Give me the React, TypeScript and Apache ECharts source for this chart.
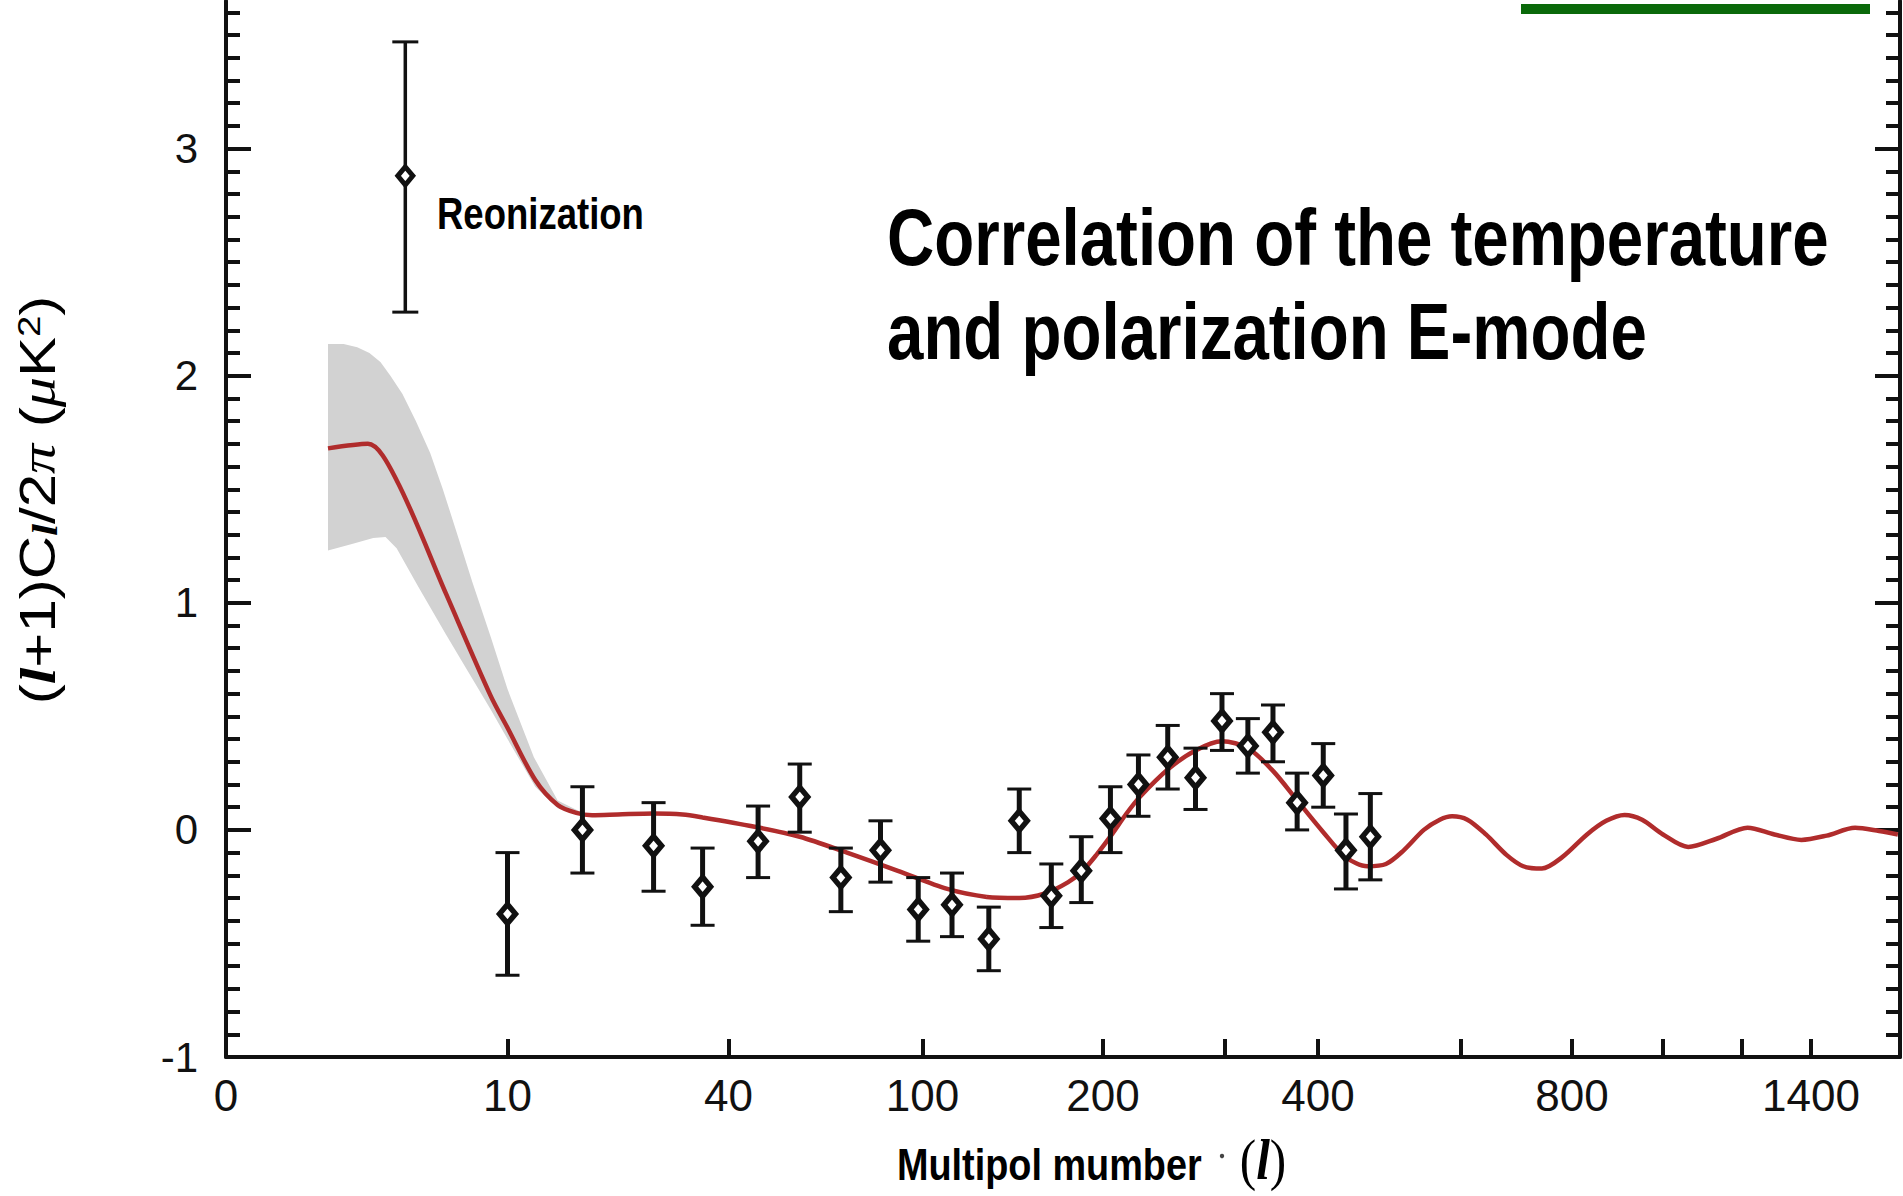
import React, { useEffect, useRef } from 'react';
import * as echarts from 'echarts';

// ---- Non-linear multipole axis definition (l -> axis units) ----
const AXIS_L_KNOTS = [0, 2, 10, 40, 100, 200, 300, 400, 600, 800, 1000, 1200, 1400];
const AXIS_U_KNOTS = [0, 102, 281.5, 502.5, 696.5, 877, 999, 1092, 1235, 1346, 1437, 1516, 1585];
const AXIS_U_MAX = 1674;

const X_TICKS = [10, 40, 100, 200, 300, 400, 600, 800, 1000, 1200, 1400];
const X_LABELS = [0, 10, 40, 100, 200, 400, 800, 1400];
const Y_LABELS = [-1, 0, 1, 2, 3];

// ---- Measured TE band powers ----
const dataL = [10, 16, 25, 34, 46, 56, 68, 82, 98, 112, 129, 145, 164, 184, 205, 225, 248, 272, 297, 322, 348, 375, 406, 433, 464];
const dataVal = [-0.37, 0.0, -0.07, -0.25, -0.05, 0.145, -0.21, -0.09, -0.35, -0.33, -0.48, 0.04, -0.29, -0.18, 0.05, 0.2, 0.32, 0.23, 0.48, 0.37, 0.43, 0.12, 0.24, -0.09, -0.03];
const dataLow = [-0.64, -0.19, -0.27, -0.42, -0.21, -0.01, -0.36, -0.23, -0.49, -0.47, -0.62, -0.1, -0.43, -0.32, -0.1, 0.06, 0.18, 0.09, 0.35, 0.25, 0.3, 0.0, 0.1, -0.26, -0.22];
const dataHigh = [-0.1, 0.19, 0.12, -0.08, 0.105, 0.29, -0.08, 0.04, -0.21, -0.19, -0.34, 0.18, -0.15, -0.03, 0.19, 0.33, 0.46, 0.36, 0.6, 0.49, 0.55, 0.25, 0.38, 0.07, 0.16];

// ---- Reionization point ----
const reionL = [4];
const reionVal = [2.88];
const reionLow = [2.28];
const reionHigh = [3.47];

// ---- Model curve ----
const modelL = [2, 2.86, 3.7, 5.76, 8.6, 10, 11.9, 13.7, 15.4, 17, 20, 25, 30, 34, 45, 56, 70, 89, 110, 128, 145, 160, 175, 185, 195, 206, 216, 226, 249, 272, 297, 322, 348, 375, 406, 433, 460, 485, 510, 540, 565, 585, 610, 640, 675, 705, 740, 780, 830, 870, 910, 950, 1000, 1060, 1130, 1215, 1290, 1370, 1450, 1545, 1630, 1700];
const modelVal = [1.68, 1.7, 1.54, 1.04, 0.59, 0.45, 0.22, 0.11, 0.075, 0.065, 0.068, 0.072, 0.068, 0.055, 0.015, -0.03, -0.1, -0.18, -0.26, -0.295, -0.3, -0.28, -0.23, -0.18, -0.11, -0.02, 0.07, 0.145, 0.27, 0.35, 0.39, 0.36, 0.26, 0.13, -0.01, -0.12, -0.16, -0.15, -0.09, 0.0, 0.045, 0.06, 0.045, -0.02, -0.11, -0.16, -0.17, -0.12, -0.02, 0.04, 0.066, 0.045, -0.02, -0.075, -0.04, 0.01, -0.02, -0.044, -0.025, 0.009, -0.005, -0.02];

// ---- Cosmic variance band ----
const bandUpperL = [2, 2.3, 2.6, 2.9, 3.2, 3.5, 3.9, 4.4, 5.0, 5.6, 6.3, 7.3, 8.6, 10, 11.8, 13.7, 16];
const bandUpper = [2.14, 2.14, 2.125, 2.1, 2.06, 2.0, 1.92, 1.8, 1.66, 1.5, 1.32, 1.09, 0.85, 0.62, 0.32, 0.13, 0.075];
const bandLowerL = [2, 2.5, 3.0, 3.35, 3.7, 4.5, 5.76, 7, 8.6, 10, 11.9, 13.7, 16];
const bandLower = [1.23, 1.26, 1.285, 1.29, 1.24, 1.07, 0.86, 0.7, 0.53, 0.4, 0.19, 0.095, 0.065];

function toU(l: number): number {
  if (l <= 0) return 0;
  if (l <= AXIS_L_KNOTS[1]) return (AXIS_U_KNOTS[1] * l) / AXIS_L_KNOTS[1];
  const n = AXIS_L_KNOTS.length;
  for (let i = 1; i < n - 1; i++) {
    const l0 = AXIS_L_KNOTS[i];
    const l1 = AXIS_L_KNOTS[i + 1];
    if (l <= l1) {
      const f = Math.log(l / l0) / Math.log(l1 / l0);
      return AXIS_U_KNOTS[i] + f * (AXIS_U_KNOTS[i + 1] - AXIS_U_KNOTS[i]);
    }
  }
  const l0 = AXIS_L_KNOTS[n - 2];
  const l1 = AXIS_L_KNOTS[n - 1];
  const f = Math.log(l / l0) / Math.log(l1 / l0);
  return AXIS_U_KNOTS[n - 2] + f * (AXIS_U_KNOTS[n - 1] - AXIS_U_KNOTS[n - 2]);
}

const INK = '#111111';
const SANS = 'Liberation Sans';
const SERIF = 'Liberation Serif';

function errorBarSeries(ls: number[], vals: number[], lows: number[], highs: number[], lw: number, capHalf: number) {
  return {
    type: 'custom',
    z: 3,
    silent: true,
    data: ls.map((l, i) => [toU(l), vals[i], lows[i], highs[i]]),
    encode: { x: 0, y: [1, 2, 3] },
    renderItem: (_p: any, api: any) => {
      const x = api.value(0);
      const lo = api.coord([x, api.value(2)]);
      const hi = api.coord([x, api.value(3)]);
      return {
        type: 'group',
        children: [
          { type: 'line', shape: { x1: lo[0], y1: lo[1], x2: hi[0], y2: hi[1] }, style: { stroke: INK, lineWidth: lw } },
          { type: 'line', shape: { x1: lo[0] - capHalf, y1: lo[1], x2: lo[0] + capHalf, y2: lo[1] }, style: { stroke: INK, lineWidth: 3 } },
          { type: 'line', shape: { x1: hi[0] - capHalf, y1: hi[1], x2: hi[0] + capHalf, y2: hi[1] }, style: { stroke: INK, lineWidth: 3 } },
        ],
      };
    },
  };
}

function diamondSeries(ls: number[], vals: number[], size: number[], bw: number) {
  return {
    type: 'scatter',
    z: 4,
    silent: true,
    symbol: 'diamond',
    symbolSize: size,
    itemStyle: { color: '#ffffff', borderColor: INK, borderWidth: bw, opacity: 1 },
    data: ls.map((l, i) => [toU(l), vals[i]]),
  };
}

function yAxisCfg(position: 'left' | 'right', showLabels: boolean) {
  return {
    type: 'value',
    position,
    min: -1,
    max: 3.65,
    interval: 1,
    splitLine: { show: false },
    axisLine: { show: true, onZero: false, lineStyle: { color: INK, width: 4 } },
    axisTick: { show: true, inside: true, length: 25, customValues: Y_LABELS, lineStyle: { color: INK, width: 4 } },
    minorTick: { show: true, splitNumber: 10, length: 14, lineStyle: { color: INK, width: 4 } },
    axisLabel: {
      show: showLabels,
      customValues: Y_LABELS,
      margin: 28,
      fontFamily: SANS,
      fontSize: 42,
      color: INK,
      formatter: (v: number) => String(Math.round(v)),
    },
  };
}

function buildOption() {
  const bandPoly = (api: any) => {
    const pts: number[][] = [];
    bandUpperL.forEach((l, i) => pts.push(api.coord([toU(l), bandUpper[i]])));
    for (let i = bandLowerL.length - 1; i >= 0; i--) pts.push(api.coord([toU(bandLowerL[i]), bandLower[i]]));
    return pts;
  };

  return {
    animation: false,
    backgroundColor: '#ffffff',
    grid: { left: 226, right: 3, top: 1, bottom: 139, containLabel: false, outerBoundsMode: 'none' },
    xAxis: {
      type: 'value',
      min: 0,
      max: AXIS_U_MAX,
      splitLine: { show: false },
      axisLine: { show: true, onZero: false, lineStyle: { color: INK, width: 4 } },
      axisTick: { show: true, inside: true, length: 18, customValues: X_TICKS.map(toU), lineStyle: { color: INK, width: 4 } },
      minorTick: { show: false },
      axisLabel: {
        show: true,
        customValues: X_LABELS.map(toU),
        margin: 16,
        fontFamily: SANS,
        fontSize: 44,
        color: INK,
        formatter: (v: number) => {
          let best = X_LABELS[0];
          let bd = Infinity;
          for (const l of X_LABELS) {
            const d = Math.abs(toU(l) - v);
            if (d < bd) {
              bd = d;
              best = l;
            }
          }
          return String(best);
        },
      },
    },
    yAxis: [yAxisCfg('left', true), yAxisCfg('right', false)],
    series: [
      {
        type: 'custom',
        z: 1,
        silent: true,
        data: [[0, 0]],
        renderItem: (_p: any, api: any) => ({
          type: 'polygon',
          shape: { points: bandPoly(api) },
          style: { fill: '#d2d2d2' },
        }),
      },
      {
        type: 'line',
        z: 2,
        silent: true,
        showSymbol: false,
        smooth: 0.3,
        lineStyle: { color: '#b02c2c', width: 4.5 },
        data: modelL.map((l, i) => [toU(l), modelVal[i]]),
      },
      errorBarSeries(dataL, dataVal, dataLow, dataHigh, 5, 12),
      errorBarSeries(reionL, reionVal, reionLow, reionHigh, 3.5, 13),
      diamondSeries(dataL, dataVal, [16, 19], 5.5),
      diamondSeries(reionL, reionVal, [15, 18], 5),
    ],
    graphic: [
      { type: 'rect', shape: { x: 1521, y: 4, width: 349, height: 10 }, style: { fill: '#0a690a' } },
      {
        type: 'text', x: 887, y: 237, scaleX: 0.818,
        style: { text: 'Correlation of the temperature', fontFamily: SANS, fontWeight: 'bold', fontSize: 80, fill: '#000', align: 'left', verticalAlign: 'middle', textAlign: 'left', textVerticalAlign: 'middle' },
      },
      {
        type: 'text', x: 887, y: 331, scaleX: 0.818,
        style: { text: 'and polarization E-mode', fontFamily: SANS, fontWeight: 'bold', fontSize: 80, fill: '#000', align: 'left', verticalAlign: 'middle', textAlign: 'left', textVerticalAlign: 'middle' },
      },
      {
        type: 'text', x: 437, y: 214, scaleX: 0.83,
        style: { text: 'Reonization', fontFamily: SANS, fontWeight: 'bold', fontSize: 44, fill: '#000', align: 'left', verticalAlign: 'middle', textAlign: 'left', textVerticalAlign: 'middle' },
      },
      {
        type: 'text', x: 897, y: 1165, scaleX: 0.86,
        style: { text: 'Multipol mumber', fontFamily: SANS, fontWeight: 'bold', fontSize: 44, fill: '#000', align: 'left', verticalAlign: 'middle', textAlign: 'left', textVerticalAlign: 'middle' },
      },
      { type: 'circle', shape: { cx: 1222, cy: 1156, r: 2.2 }, style: { fill: '#444' } },
      {
        type: 'text', x: 1263, y: 1160, scaleX: 0.88,
        style: {
          text: '{p|(}{l|l}{p|)}',
          align: 'center', verticalAlign: 'middle', textAlign: 'center', textVerticalAlign: 'middle',
          rich: {
            p: { fontFamily: SERIF, fontSize: 56, fill: '#000' },
            l: { fontFamily: SERIF, fontStyle: 'italic', fontWeight: 'bold', fontSize: 56, fill: '#000' },
          },
        },
      },
      {
        type: 'text', x: 38, y: 500, rotation: Math.PI / 2, scaleX: 1.2,
        style: {
          text: '{n|(}{i|l}{n|+1)C}{s|l}{n|/2}{g|π}{n| (}{g|μ}{n|K}{u|2}{n|)}',
          align: 'center', verticalAlign: 'middle', textAlign: 'center', textVerticalAlign: 'middle',
          rich: {
            n: { fontFamily: SANS, fontSize: 50, fill: '#000' },
            i: { fontFamily: SERIF, fontStyle: 'italic', fontWeight: 'bold', fontSize: 50, fill: '#000' },
            s: { fontFamily: SERIF, fontStyle: 'italic', fontWeight: 'bold', fontSize: 36, fill: '#000', verticalAlign: 'bottom' },
            g: { fontFamily: SERIF, fontStyle: 'italic', fontSize: 50, fill: '#000' },
            u: { fontFamily: SANS, fontSize: 32, fill: '#000', verticalAlign: 'top' },
          },
        },
      },
    ],
  };
}

export default function App() {
  const ref = useRef<HTMLDivElement>(null);
  useEffect(() => {
    document.body.style.margin = '0';
    const chart = echarts.init(ref.current!, null, { renderer: 'svg' });
    chart.setOption(buildOption() as any);
    return () => chart.dispose();
  }, []);
  return (
    <div
      ref={ref}
      style={{ position: 'absolute', left: 0, top: 0, width: 1903, height: 1196, background: '#ffffff' }}
    />
  );
}
